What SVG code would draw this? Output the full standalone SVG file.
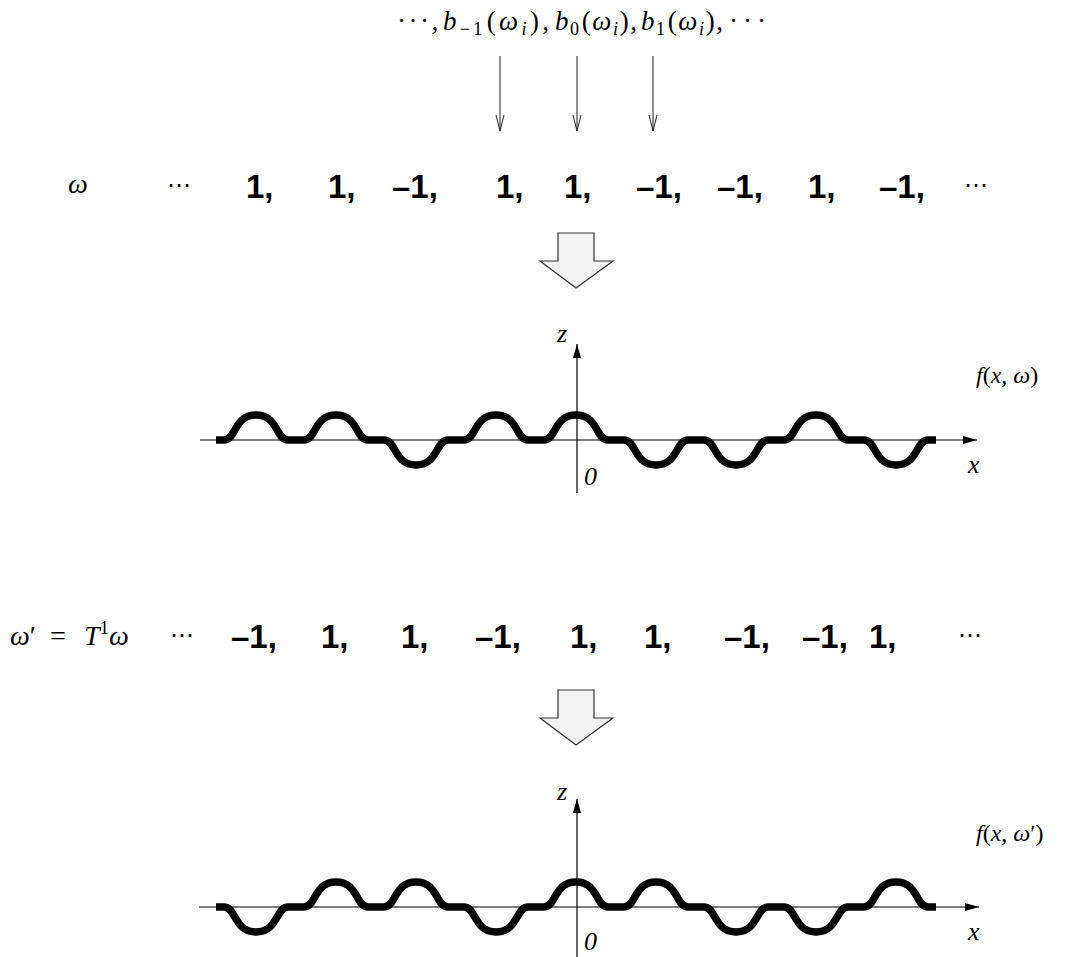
<svg xmlns="http://www.w3.org/2000/svg" width="1075" height="957" viewBox="0 0 1075 957">
  <style>
    .m { font-family: "Liberation Serif", "DejaVu Serif", serif; fill: #000; }
    .i { font-style: italic; }
    .dots { font-family: "DejaVu Serif", serif; font-size: 24px; fill: #000; }
    .md { letter-spacing: 5px; }
    .b { font-family: "Liberation Sans", Arial, sans-serif; font-weight: bold; font-size: 33px; fill: #000; }
    .ax { stroke: #000; stroke-width: 1.2; fill: none; }
    .wave { fill: none; stroke: #000; stroke-width: 7.5; stroke-linejoin: round; }
    .blk { fill: #f2f2f2; stroke: #333; stroke-width: 1.2; }
    .thin { stroke: #222; stroke-width: 1; fill: none; }
  </style>
  <defs>
    <marker id="ah" markerUnits="userSpaceOnUse" markerWidth="15" markerHeight="9" refX="14" refY="4" orient="auto">
      <path d="M0,0 L14,4 L0,8 Z" fill="#000"/>
    </marker>
    <marker id="vh" markerUnits="userSpaceOnUse" markerWidth="18" markerHeight="10" refX="16" refY="4.5" orient="auto">
      <path d="M0,0.5 L16,4.5 L0,8.5" fill="none" stroke="#222" stroke-width="1"/>
    </marker>
  </defs>
  <rect width="1075" height="957" fill="#fff"/>

  <!-- bit sequence b_k(omega_i) -->
  <g id="seq-b" class="m" font-size="27">
    <text x="397" y="30"><tspan letter-spacing="2.5">···</tspan>,</text>
    <text x="443" y="30" textLength="106" lengthAdjust="spacing"><tspan class="i">b</tspan><tspan font-size="18" dy="5">−1</tspan><tspan dy="-5" dx="1">(</tspan><tspan class="i">ω</tspan><tspan class="i" font-size="18" dy="5">i</tspan><tspan dy="-5">),</tspan></text>
    <text x="555" y="30" textLength="82" lengthAdjust="spacing"><tspan class="i">b</tspan><tspan font-size="18" dy="5">0</tspan><tspan dy="-5" dx="1">(</tspan><tspan class="i">ω</tspan><tspan class="i" font-size="18" dy="5">i</tspan><tspan dy="-5">),</tspan></text>
    <text x="641" y="30" textLength="82" lengthAdjust="spacing"><tspan class="i">b</tspan><tspan font-size="18" dy="5">1</tspan><tspan dy="-5" dx="1">(</tspan><tspan class="i">ω</tspan><tspan class="i" font-size="18" dy="5">i</tspan><tspan dy="-5">),</tspan></text>
    <text class="md" x="729" y="30">···</text>
  </g>

  <!-- sequence omega -->
  <g id="row-omega">
    <text class="m i" x="68" y="193" font-size="28">ω</text>
    <text class="dots" x="167" y="193" font-size="27">⋯</text>
    <text class="b" x="246" y="198">1,</text>
    <text class="b" x="328" y="198">1,</text>
    <text class="b" x="392" y="198">–1,</text>
    <text class="b" x="496" y="198">1,</text>
    <text class="b" x="564" y="198">1,</text>
    <text class="b" x="636" y="198">–1,</text>
    <text class="b" x="717" y="198">–1,</text>
    <text class="b" x="808" y="198">1,</text>
    <text class="b" x="879" y="198">–1,</text>
    <text class="dots" x="964" y="193" font-size="27">⋯</text>
  </g>

  <!-- profile f(x, omega) -->
  <g id="plot-1">
    <line class="ax" x1="200" y1="440" x2="977" y2="440" marker-end="url(#ah)"/>
    <line class="ax" x1="577" y1="493" x2="577" y2="344" marker-end="url(#ah)"/>
    <path class="wave" d="M216,440
      h8c12,0 10,-25 32,-25c22,0 20,25 32,25h8
      h8c12,0 10,-25 32,-25c22,0 20,25 32,25h8
      h8c12,0 10,25 32,25c22,0 20,-25 32,-25h8
      h8c12,0 10,-25 32,-25c22,0 20,25 32,25h8
      h8c12,0 10,-25 32,-25c22,0 20,25 32,25h8
      h8c12,0 10,25 32,25c22,0 20,-25 32,-25h8
      h8c12,0 10,25 32,25c22,0 20,-25 32,-25h8
      h8c12,0 10,-25 32,-25c22,0 20,25 32,25h8
      h8c12,0 10,25 32,25c22,0 20,-25 32,-25h8"/>
    <text class="m i" x="557" y="342" font-size="26">z</text>
    <text class="m i" x="584" y="485" font-size="26">0</text>
    <text class="m i" x="968" y="473" font-size="26">x</text>
    <text class="m" x="976" y="383" font-size="24"><tspan class="i">f</tspan>(<tspan class="i">x</tspan>, <tspan class="i">ω</tspan>)</text>
  </g>

  <!-- shifted sequence omega' = T^1 omega -->
  <g id="row-omega-shift" class="m" font-size="28">
    <text x="10" y="645"><tspan class="i">ω</tspan>′</text>
    <text x="50" y="645">=</text>
    <text x="84" y="645"><tspan class="i">T</tspan><tspan font-size="19" dy="-11">1</tspan><tspan class="i" dy="11">ω</tspan></text>
    <text class="dots" x="170" y="643" font-size="27">⋯</text>
    <text class="b" x="231" y="648">–1,</text>
    <text class="b" x="321" y="648">1,</text>
    <text class="b" x="401" y="648">1,</text>
    <text class="b" x="475" y="648">–1,</text>
    <text class="b" x="570" y="648">1,</text>
    <text class="b" x="644" y="648">1,</text>
    <text class="b" x="724" y="648">–1,</text>
    <text class="b" x="802" y="648">–1,</text>
    <text class="b" x="869" y="648">1,</text>
    <text class="dots" x="958" y="643" font-size="27">⋯</text>
  </g>

  <!-- profile f(x, omega') -->
  <g id="plot-2">
    <line class="ax" x1="199" y1="907" x2="979" y2="907" marker-end="url(#ah)"/>
    <line class="ax" x1="577" y1="957" x2="577" y2="799" marker-end="url(#ah)"/>
    <path class="wave" d="M216,907
      h8c12,0 10,25 32,25c22,0 20,-25 32,-25h8
      h8c12,0 10,-25 32,-25c22,0 20,25 32,25h8
      h8c12,0 10,-25 32,-25c22,0 20,25 32,25h8
      h8c12,0 10,25 32,25c22,0 20,-25 32,-25h8
      h8c12,0 10,-25 32,-25c22,0 20,25 32,25h8
      h8c12,0 10,-25 32,-25c22,0 20,25 32,25h8
      h8c12,0 10,25 32,25c22,0 20,-25 32,-25h8
      h8c12,0 10,25 32,25c22,0 20,-25 32,-25h8
      h8c12,0 10,-25 32,-25c22,0 20,25 32,25h8"/>
    <text class="m i" x="557" y="800" font-size="26">z</text>
    <text class="m i" x="584" y="950" font-size="26">0</text>
    <text class="m i" x="968" y="940" font-size="26">x</text>
    <text class="m" x="976" y="841" font-size="24"><tspan class="i">f</tspan>(<tspan class="i">x</tspan>, <tspan class="i">ω</tspan>′)</text>
  </g>

  <!-- connectors -->
  <g id="connectors">
    <line class="thin" x1="500" y1="56" x2="500" y2="131" marker-end="url(#vh)"/>
    <line class="thin" x1="577" y1="56" x2="577" y2="131" marker-end="url(#vh)"/>
    <line class="thin" x1="653" y1="56" x2="653" y2="131" marker-end="url(#vh)"/>
    <polygon id="block-arrow-1" class="blk" points="558,233 594,233 594,261 613,261 576,288 540,261 558,261"/>
    <polygon id="block-arrow-2" class="blk" points="558,690 594,690 594,718 613,718 576,745 540,718 558,718"/>
  </g>
</svg>
